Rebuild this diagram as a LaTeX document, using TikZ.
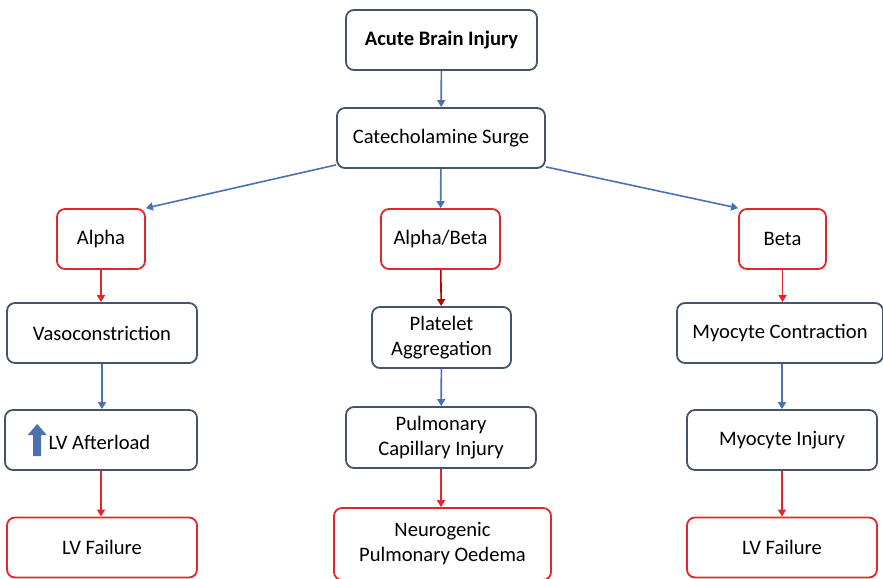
\documentclass[tikz,border=0pt]{standalone}
\usepackage{fontspec}
\setmainfont{Carlito}
\usetikzlibrary{arrows.meta}

\definecolor{boxline}{HTML}{44546A}
\definecolor{redline}{HTML}{E3262C}
\definecolor{bluearrow}{HTML}{4A72B0}

\tikzset{
  box/.style={draw=boxline, line width=1.8pt, rounded corners=8pt, fill=white,
    inner sep=0pt, align=center, font=\fontsize{20.6}{25}\selectfont},
  redbox/.style={box, draw=redline},
  bluelink/.style={-{Triangle[length=7pt,width=8pt]}, draw=bluearrow, line width=1.6pt},
  redlink/.style={-{Triangle[length=7pt,width=8pt]}, draw=redline, line width=1.6pt},
}

\begin{document}
\begin{tikzpicture}[x=1pt, y=-1pt]
  \useasboundingbox (0,0) rectangle (883,578);
  \clip (0,0) rectangle (883,578);
  % --- top ---
  \node[box, minimum width=191pt, minimum height=60pt, font=\fontsize{20.6}{25}\selectfont\bfseries]
    (abi) at (441.5,40) {Acute Brain Injury};
  \node[box, minimum width=208pt, minimum height=60pt] (cat) at (441,138) {Catecholamine Surge};
  % --- receptors ---
  \node[redbox, minimum width=88pt, minimum height=60pt] (alpha) at (101,239) {Alpha};
  \node[redbox, minimum width=119pt, minimum height=60pt] (alphabeta) at (440.5,239) {Alpha/Beta};
  \node[redbox, minimum width=87pt, minimum height=60pt] (beta) at (782.5,239) {Beta};
  % --- effects ---
  \node[box, minimum width=190pt, minimum height=60pt] (vaso) at (102,333) {Vasoconstriction};
  \node[box, minimum width=139pt, minimum height=61pt] (plat) at (441.5,337.5) {Platelet\\Aggregation};
  \node[box, minimum width=206pt, minimum height=60pt] (myo) at (780,333) {Myocyte Contraction};
  % --- injury ---
  \node[box, minimum width=192pt, minimum height=60pt] (afterload) at (101,440)
    {\tikz[baseline=0pt, sharp corners]\fill[bluearrow] (-4pt,-7pt) -- (-4pt,14pt) -- (-9.5pt,14pt)
      -- (0pt,25pt) -- (9.5pt,14pt) -- (4pt,14pt) -- (4pt,-7pt) -- cycle;\hspace{2pt}LV Afterload\hspace{24pt}};
  \node[box, minimum width=190pt, minimum height=61pt] (capinj) at (441,437.5) {Pulmonary\\Capillary Injury};
  \node[box, minimum width=190pt, minimum height=60pt] (myoinj) at (782,440) {Myocyte Injury};
  % --- outcomes ---
  \node[redbox, minimum width=190pt, minimum height=60pt] (lvfleft) at (102,547.5) {LV Failure};
  \node[redbox, minimum width=217pt, minimum height=72pt] (oedema) at (442.5,544) {Neurogenic\\Pulmonary Oedema};
  \node[redbox, minimum width=190pt, minimum height=60pt] (lvfright) at (782,547.5) {LV Failure};

  % links
  \draw[bluelink] (abi) -- (cat);
  \draw[bluelink] (cat.south west) ++(0,-4) -- (alpha.north east);
  \draw[bluelink] (cat) -- (alphabeta);
  \draw[bluelink] (cat.south east) ++(0,-2) -- (beta.north west);
  \draw[redlink] (alpha) -- (alpha |- vaso.north);
  \draw[redlink, draw=red!75!black] (alphabeta) -- (plat);
  \draw[redlink] (beta) -- (beta |- myo.north);
  \draw[bluelink] (vaso) -- (vaso |- afterload.north);
  \draw[bluelink] (plat) -- (capinj);
  \draw[bluelink] (myo.south -| myoinj) -- (myoinj);
  \draw[redlink] (afterload) -- (afterload |- lvfleft.north);
  \draw[redlink] (capinj) -- (capinj |- oedema.north);
  \draw[redlink] (myoinj) -- (lvfright);
\end{tikzpicture}
\end{document}
